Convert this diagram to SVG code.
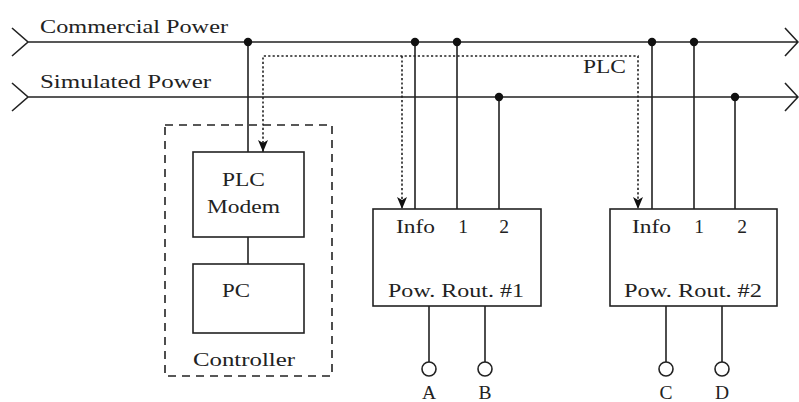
<svg xmlns="http://www.w3.org/2000/svg" width="799" height="402" viewBox="0 0 799 402">
<defs>
<style>
.ln{stroke:#222;stroke-width:1.6;fill:none}
.dot{stroke:#222;stroke-width:1.6;fill:none;stroke-dasharray:2.2 2.2}
.dash{stroke:#222;stroke-width:1.6;fill:none;stroke-dasharray:8 6}
.box{stroke:#222;stroke-width:1.6;fill:#fff}
.jn{fill:#111}
.term{stroke:#222;stroke-width:1.6;fill:#fff}
text{font-family:"Liberation Serif","DejaVu Serif",serif;font-size:19.5px;fill:#222}
</style>
<marker id="arr" viewBox="0 0 12 10" refX="12" refY="5" markerWidth="12" markerHeight="10" markerUnits="userSpaceOnUse" orient="auto-start-reverse">
<path d="M0,0 L3,5 L0,10 L12,5 Z" fill="#111"/>
</marker>
</defs>
<rect width="799" height="402" fill="#fff"/>
<g id="connectors">
<path class="ln" d="M12,28 L28,42 L12,56 M28,42 H798 M785,28 L798,42 L785,56"/>
<path class="ln" d="M12,83 L28,97 L12,111 M28,97 H798 M785,83 L798,97 L785,111"/>
<path class="ln" d="M248,42 V152 M248,237 V264"/>
<path class="ln" d="M415,42 V209 M457,42 V209 M499,97 V209"/>
<path class="ln" d="M652,42 V209 M694,42 V209 M735,97 V209"/>
<path class="ln" d="M429,306 V362 M485,306 V362 M666,306 V362 M722,306 V362"/>
<path class="dot" d="M263,152 V56 H638 V209" marker-start="url(#arr)" marker-end="url(#arr)"/>
<path class="dot" d="M402,56 V209" marker-end="url(#arr)"/>
<circle class="jn" cx="248" cy="42" r="4.2"/>
<circle class="jn" cx="415" cy="42" r="4.2"/>
<circle class="jn" cx="457" cy="42" r="4.2"/>
<circle class="jn" cx="499" cy="97" r="4.2"/>
<circle class="jn" cx="652" cy="42" r="4.2"/>
<circle class="jn" cx="694" cy="42" r="4.2"/>
<circle class="jn" cx="735" cy="97" r="4.2"/>
<circle class="term" cx="429" cy="369" r="7"/>
<circle class="term" cx="485" cy="369" r="7"/>
<circle class="term" cx="666" cy="369" r="7"/>
<circle class="term" cx="722" cy="369" r="7"/>
</g>
<g id="labels">
<text x="40" y="33" textLength="188" lengthAdjust="spacingAndGlyphs">Commercial Power</text>
<text x="40" y="88" textLength="171" lengthAdjust="spacingAndGlyphs">Simulated Power</text>
<text x="583" y="73" textLength="43" lengthAdjust="spacingAndGlyphs">PLC</text>
<text x="429" y="399" text-anchor="middle">A</text>
<text x="485" y="399" text-anchor="middle">B</text>
<text x="666" y="399" text-anchor="middle">C</text>
<text x="722" y="399" text-anchor="middle">D</text>
</g>
<g id="controller">
<rect class="dash" x="165" y="125" width="167" height="251"/>
<text x="193" y="366" textLength="102" lengthAdjust="spacingAndGlyphs">Controller</text>
</g>
<g id="plc-modem">
<rect class="box" x="193" y="152" width="111" height="85"/>
<text x="222" y="186" textLength="43" lengthAdjust="spacingAndGlyphs">PLC</text>
<text x="207" y="213" textLength="73" lengthAdjust="spacingAndGlyphs">Modem</text>
</g>
<g id="pc">
<rect class="box" x="193" y="264" width="111" height="69"/>
<text x="222" y="297" textLength="28" lengthAdjust="spacingAndGlyphs">PC</text>
</g>
<g id="router1">
<rect class="box" x="373" y="209" width="168" height="97"/>
<text x="396" y="233" textLength="39" lengthAdjust="spacingAndGlyphs">Info</text>
<text x="463" y="233" text-anchor="middle">1</text>
<text x="504" y="233" text-anchor="middle">2</text>
<text x="388" y="297" textLength="136" lengthAdjust="spacingAndGlyphs">Pow. Rout. #1</text>
</g>
<g id="router2">
<rect class="box" x="610" y="209" width="167" height="97"/>
<text x="632" y="233" textLength="39" lengthAdjust="spacingAndGlyphs">Info</text>
<text x="699" y="233" text-anchor="middle">1</text>
<text x="742" y="233" text-anchor="middle">2</text>
<text x="624" y="297" textLength="138" lengthAdjust="spacingAndGlyphs">Pow. Rout. #2</text>
</g>
</svg>
